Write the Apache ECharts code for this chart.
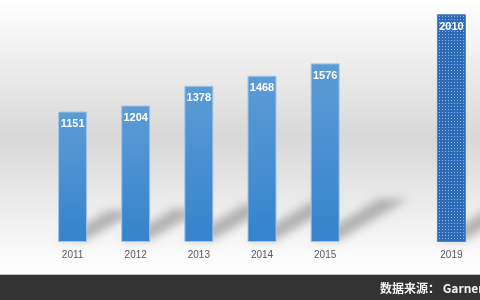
<!DOCTYPE html>
<html><head><meta charset="utf-8">
<script src="https://cdn.jsdelivr.net/npm/echarts@6/dist/echarts.min.js"></script>
<style>html,body{margin:0;padding:0;background:#fff}#c{width:480px;height:300px}</style>
</head><body><div id="c"></div>
<script>
const categories = ['2011', '2012', '2013', '2014', '2015', '', '2019'];
const values = [1151, 1204, 1378, 1468, 1576, null, 2010];
const forecastIndex = 6;
const sourceText = '数据来源： Garner';

const chart = echarts.init(document.getElementById('c'), null, { renderer: 'canvas' });

// dotted pattern for the forecast bar
const pc = document.createElement('canvas');
pc.width = 3; pc.height = 3;
const g = pc.getContext('2d');
g.fillStyle = '#2d6bb8'; g.fillRect(0, 0, 3, 3);
g.fillStyle = 'rgba(190,215,245,0.7)'; g.fillRect(1, 1, 1, 1);

const BAR_W = 29;
const barGradient = new echarts.graphic.LinearGradient(0, 0, 0, 1, [
  { offset: 0, color: '#5c9cd6' },
  { offset: 1, color: '#3583cc' }
]);

const barData = values.map((v, i) => {
  if (v == null) return null;
  if (i === forecastIndex) {
    return { value: v, itemStyle: { color: { image: pc, repeat: 'repeat' }, borderColor: '#4a85c8' } };
  }
  return v;
});

const shadowData = [];
values.forEach((v, i) => { if (v != null) shadowData.push([i, v]); });

chart.setOption({
  animation: false,
  graphic: [
    {
      type: 'rect', z: -10, silent: true,
      shape: { x: 0, y: 0, width: 480, height: 275 },
      style: {
        fill: new echarts.graphic.LinearGradient(0, 0, 0, 1, [
          { offset: 0, color: '#ffffff' },
          { offset: 0.5, color: '#d8d8d8' },
          { offset: 0.9, color: '#f8f8f8' },
          { offset: 1, color: '#ffffff' }
        ])
      }
    },
    {
      type: 'rect', z: 100, silent: true,
      shape: { x: 0, y: 274, width: 480, height: 1 },
      style: { fill: '#bdbdbd' }
    },
    {
      type: 'rect', z: 100, silent: true,
      shape: { x: 0, y: 275, width: 480, height: 25 },
      style: { fill: '#333333' }
    },
    {
      type: 'text', z: 101, silent: true,
      x: 380, y: 288,
      style: {
        text: sourceText, fill: '#f2f2f2',
        font: 'bold 12px "Noto Sans CJK SC", sans-serif',
        verticalAlign: 'middle'
      }
    }
  ],
  grid: { left: 41, width: 442, top: 4, bottom: 58, outerBoundsMode: 'none', containLabel: false },
  xAxis: {
    type: 'category', data: categories,
    axisLine: { show: false }, axisTick: { show: false },
    axisLabel: { color: '#595959', fontSize: 10, margin: 8, fontFamily: '"Liberation Sans", Arial, sans-serif' }
  },
  yAxis: { type: 'value', min: 0, max: 2100, show: false, splitLine: { show: false } },
  series: [
    {
      type: 'custom', z: 1, silent: true, clip: false,
      data: shadowData,
      renderItem: function (params, api) {
        const i = api.value(0), v = api.value(1);
        const b = api.coord([i, 0]), t = api.coord([i, v]);
        const h = b[1] - t[1];
        const x0 = b[0] - BAR_W / 2;
        const dx = 0.38 * h, dy = 0.24 * h;
        const off = 2000;
        return {
          type: 'polygon',
          shape: {
            points: [
              [x0 - off, b[1] - 2],
              [x0 + BAR_W - off, b[1] - 2],
              [x0 + BAR_W + dx - off, b[1] - dy],
              [x0 + dx - off, b[1] - dy]
            ]
          },
          style: {
            fill: '#000',
            shadowColor: 'rgba(0,0,0,0.26)',
            shadowBlur: 9,
            shadowOffsetX: off
          }
        };
      }
    },
    {
      type: 'bar', z: 2,
      data: barData,
      barWidth: BAR_W,
      itemStyle: { color: barGradient, borderColor: '#a3c4e6', borderWidth: 1 },
      label: {
        show: true, position: 'insideTop', distance: 7,
        color: '#ffffff', fontWeight: 'bold', fontSize: 11,
        fontFamily: '"Liberation Sans", Arial, sans-serif'
      }
    }
  ]
});
</script>
</body></html>
